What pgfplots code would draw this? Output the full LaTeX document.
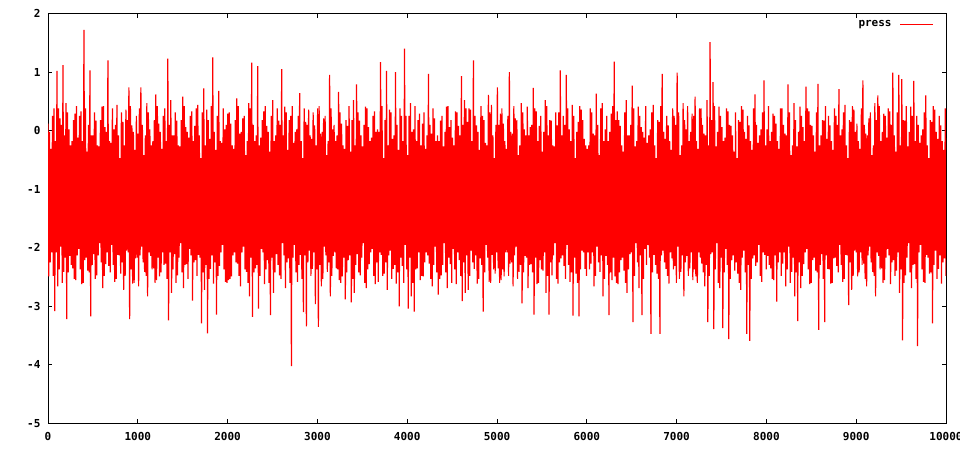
\documentclass[border=0pt]{standalone}
\usepackage{fontspec}
\setmainfont{DejaVu Sans Mono}
\usepackage{pgfplots}
\usepackage{pgfplotstable}
\pgfplotsset{compat=1.18}
\pgfplotstableread[row sep=\\]{
y\\
0.12\\-2.49\\-0.02\\-2.25\\-0.31\\-2.08\\0.25\\-2.48\\0.38\\-3.08\\-0.18\\-2.08\\1.02\\-2.66\\0.38\\-2.37\\0.21\\-1.98\\0.10\\-2.60\\1.12\\-2.41\\-0.08\\-2.17\\0.47\\-3.22\\0.31\\-2.42\\0.02\\-2.14\\-0.25\\-2.29\\-0.18\\-2.35\\0.18\\-2.53\\0.29\\-2.55\\0.42\\-2.13\\
-0.12\\-2.02\\0.25\\-2.37\\0.33\\-2.62\\-0.18\\-2.60\\1.72\\-2.21\\0.38\\-2.17\\-0.36\\-2.39\\0.10\\-2.42\\1.03\\-3.17\\-0.08\\-2.29\\-0.08\\-2.11\\0.31\\-2.53\\0.17\\-2.47\\-0.25\\-2.13\\-0.27\\-1.92\\0.18\\-2.25\\0.41\\-2.69\\0.42\\-2.48\\0.06\\-2.28\\-0.02\\-2.08\\
1.20\\-2.31\\-0.18\\-2.42\\-0.21\\-1.95\\0.38\\-2.29\\0.02\\-2.58\\0.10\\-2.53\\0.44\\-2.12\\-0.08\\-2.13\\-0.47\\-2.44\\0.31\\-2.25\\0.15\\-2.72\\-0.25\\-2.48\\0.36\\-2.05\\0.18\\-2.08\\0.74\\-3.22\\0.42\\-2.37\\0.09\\-2.61\\-0.02\\-2.60\\-0.33\\-2.18\\0.25\\-2.17\\
-0.05\\-2.66\\0.38\\-2.13\\0.74\\-1.98\\0.10\\-2.25\\-0.42\\-2.41\\-0.08\\-2.48\\0.47\\-2.83\\0.31\\-2.08\\0.02\\-2.14\\-0.25\\-2.37\\-0.18\\-2.35\\0.18\\-2.60\\0.62\\-2.55\\0.42\\-2.17\\0.12\\-2.49\\-0.02\\-2.42\\-0.31\\-2.08\\0.25\\-2.29\\0.38\\-2.27\\-0.18\\-2.53\\
1.23\\-3.24\\0.10\\-2.08\\0.52\\-2.77\\-0.08\\-2.37\\-0.08\\-2.11\\0.31\\-2.60\\0.17\\-2.47\\-0.25\\-2.17\\-0.27\\-1.92\\0.18\\-2.42\\0.58\\-2.69\\0.42\\-2.29\\0.06\\-2.28\\-0.02\\-2.53\\-0.12\\-2.02\\0.25\\-2.13\\0.33\\-2.90\\-0.18\\-2.25\\0.08\\-2.21\\0.38\\-2.48\\
0.44\\-2.12\\-0.08\\-2.17\\-0.47\\-3.29\\0.31\\-2.42\\0.72\\-2.72\\-0.25\\-2.29\\0.36\\-3.46\\0.18\\-2.53\\-0.14\\-2.36\\0.42\\-2.13\\1.25\\-2.61\\-0.02\\-2.25\\-0.33\\-3.14\\0.25\\-2.48\\0.68\\-2.31\\-0.18\\-2.08\\-0.21\\-1.95\\0.38\\-2.37\\0.02\\-2.58\\0.10\\-2.60\\
0.29\\-2.55\\0.31\\-2.53\\0.12\\-2.49\\-0.25\\-2.13\\-0.31\\-2.08\\0.18\\-2.25\\0.55\\-2.27\\0.42\\-2.48\\-0.05\\-2.66\\-0.02\\-2.08\\0.21\\-1.98\\0.25\\-2.37\\-0.42\\-2.41\\-0.18\\-2.60\\0.47\\-2.83\\0.38\\-2.17\\1.16\\-3.18\\0.10\\-2.42\\-0.18\\-2.35\\-0.08\\-2.29\\
1.10\\-3.04\\-0.25\\-2.48\\-0.12\\-2.02\\0.18\\-2.08\\0.33\\-2.62\\0.42\\-2.37\\0.08\\-2.21\\-0.02\\-2.60\\-0.36\\-3.15\\0.25\\-2.17\\0.52\\-2.77\\-0.18\\-2.42\\-0.08\\-2.11\\0.38\\-2.29\\0.17\\-2.47\\0.10\\-2.53\\1.05\\-1.92\\-0.08\\-2.13\\0.41\\-2.69\\0.31\\-2.25\\
-0.33\\-2.18\\0.18\\-2.60\\0.25\\-4.02\\0.42\\-2.17\\-0.21\\-1.95\\-0.02\\-2.42\\0.02\\-2.58\\0.25\\-2.29\\0.64\\-2.12\\-0.18\\-2.53\\-0.47\\-3.10\\0.38\\-2.13\\0.15\\-3.34\\0.10\\-2.25\\0.36\\-2.05\\-0.08\\-2.48\\-0.14\\-2.36\\0.31\\-2.08\\0.09\\-2.96\\-0.25\\-2.37\\
0.38\\-3.35\\0.42\\-2.29\\-0.05\\-2.66\\-0.02\\-2.53\\0.21\\-1.98\\0.25\\-2.13\\-0.42\\-2.41\\-0.18\\-2.25\\0.95\\-2.83\\0.38\\-2.48\\0.02\\-2.14\\0.10\\-2.08\\-0.18\\-2.35\\-0.08\\-2.37\\0.66\\-2.55\\0.31\\-2.60\\0.12\\-2.49\\-0.25\\-2.17\\-0.31\\-2.88\\0.18\\-2.42\\
0.08\\-2.21\\0.42\\-2.13\\-0.36\\-2.93\\0.18\\-2.53\\0.52\\-2.77\\-0.25\\-2.29\\0.79\\-2.11\\0.31\\-2.42\\0.17\\-2.47\\-0.08\\-2.17\\-0.27\\-1.92\\0.10\\-2.60\\0.41\\-2.69\\0.38\\-2.37\\0.06\\-2.28\\-0.18\\-2.08\\-0.12\\-2.02\\0.25\\-2.48\\0.33\\-2.62\\-0.02\\-2.25\\
0.02\\-2.58\\-0.02\\-2.08\\1.17\\-2.12\\0.42\\-2.48\\-0.47\\-2.44\\0.18\\-2.25\\1.02\\-2.72\\-0.25\\-2.13\\0.36\\-2.05\\0.31\\-2.53\\-0.14\\-2.36\\-0.08\\-2.29\\1.00\\-2.61\\0.10\\-2.42\\-0.33\\-3.00\\0.38\\-2.17\\0.25\\-2.31\\-0.18\\-2.60\\1.40\\-1.95\\0.25\\-2.37\\
-0.42\\-3.04\\0.25\\-2.17\\0.47\\-2.83\\-0.02\\-2.60\\0.02\\-3.09\\0.42\\-2.37\\-0.18\\-2.35\\0.18\\-2.08\\0.29\\-2.55\\-0.25\\-2.48\\0.12\\-2.49\\0.31\\-2.25\\-0.31\\-2.08\\-0.08\\-2.13\\0.97\\-2.27\\0.10\\-2.53\\-0.05\\-2.66\\0.38\\-2.29\\0.21\\-1.98\\-0.18\\-2.42\\
-0.08\\-2.80\\-0.18\\-2.53\\0.17\\-2.47\\0.25\\-2.29\\-0.27\\-1.92\\-0.02\\-2.42\\0.41\\-2.69\\0.42\\-2.17\\0.06\\-2.28\\0.18\\-2.60\\-0.12\\-2.02\\-0.25\\-2.37\\0.33\\-2.62\\0.31\\-2.08\\0.08\\-2.21\\-0.08\\-2.48\\0.93\\-2.91\\0.10\\-2.25\\0.52\\-2.77\\0.38\\-2.13\\
0.15\\-2.72\\0.38\\-2.48\\0.36\\-2.05\\-0.18\\-2.25\\1.20\\-2.36\\0.25\\-2.13\\0.09\\-2.61\\-0.02\\-2.53\\-0.33\\-2.18\\0.42\\-2.29\\0.25\\-3.09\\0.18\\-2.42\\-0.21\\-1.95\\-0.25\\-2.17\\0.61\\-2.58\\0.31\\-2.60\\0.44\\-2.12\\-0.08\\-2.37\\-0.47\\-2.44\\0.10\\-2.08\\
0.74\\-2.35\\0.10\\-2.60\\0.29\\-2.55\\0.38\\-2.37\\0.12\\-2.49\\-0.18\\-2.08\\-0.31\\-2.08\\0.25\\-2.48\\1.00\\-2.27\\-0.02\\-2.25\\-0.05\\-2.66\\0.42\\-2.13\\0.21\\-1.98\\0.18\\-2.53\\-0.42\\-2.41\\-0.25\\-2.29\\0.47\\-2.95\\0.31\\-2.42\\0.02\\-2.14\\-0.08\\-2.17\\
0.41\\-2.69\\-0.08\\-2.29\\0.06\\-2.28\\0.10\\-2.42\\0.73\\-3.14\\0.38\\-2.17\\0.33\\-2.62\\-0.18\\-2.60\\0.08\\-2.21\\0.25\\-2.37\\-0.36\\-2.39\\-0.02\\-2.08\\0.52\\-2.77\\0.42\\-2.48\\-0.08\\-3.14\\0.18\\-2.25\\0.17\\-2.47\\-0.25\\-2.13\\-0.27\\-1.92\\0.31\\-2.53\\
0.09\\-2.61\\0.31\\-2.25\\1.03\\-2.18\\-0.08\\-2.13\\0.25\\-2.31\\0.10\\-2.53\\0.95\\-1.95\\0.38\\-2.29\\0.02\\-2.58\\-0.18\\-2.42\\0.44\\-3.16\\0.25\\-2.17\\-0.47\\-2.44\\-0.02\\-2.60\\0.15\\-3.17\\0.42\\-2.37\\0.36\\-2.05\\0.18\\-2.08\\-0.14\\-2.36\\-0.25\\-2.48\\
-0.31\\-2.08\\-0.25\\-2.37\\0.38\\-2.27\\0.31\\-2.08\\-0.05\\-2.66\\-0.08\\-2.48\\0.63\\-1.98\\0.10\\-2.25\\-0.42\\-2.41\\0.38\\-2.13\\0.47\\-2.83\\-0.18\\-2.53\\0.02\\-2.14\\0.25\\-2.29\\-0.18\\-3.15\\-0.02\\-2.42\\0.29\\-2.55\\0.42\\-2.17\\1.18\\-2.49\\0.18\\-2.60\\
0.33\\-2.62\\0.18\\-2.42\\0.08\\-2.21\\-0.25\\-2.17\\-0.36\\-2.39\\0.31\\-2.60\\0.52\\-2.77\\-0.08\\-2.37\\-0.08\\-2.11\\0.10\\-2.08\\0.77\\-3.27\\0.38\\-2.48\\-0.27\\-1.92\\-0.18\\-2.25\\0.41\\-2.69\\0.25\\-2.13\\0.06\\-3.15\\-0.02\\-2.53\\-0.12\\-2.02\\0.42\\-2.29\\
-0.21\\-1.95\\-0.08\\-2.17\\0.02\\-3.47\\0.31\\-2.42\\0.44\\-2.12\\-0.25\\-2.29\\-0.47\\-2.44\\0.18\\-2.53\\0.15\\-3.47\\0.42\\-2.13\\0.97\\-2.05\\-0.02\\-2.25\\-0.14\\-2.36\\0.25\\-2.48\\0.09\\-2.61\\-0.18\\-2.08\\-0.33\\-2.18\\0.38\\-2.37\\0.25\\-2.31\\0.10\\-2.60\\
0.99\\-1.98\\0.31\\-2.53\\-0.42\\-2.41\\-0.25\\-2.13\\0.47\\-2.83\\0.18\\-2.25\\0.02\\-2.14\\0.42\\-2.48\\-0.18\\-2.35\\-0.02\\-2.08\\0.29\\-2.55\\0.25\\-2.37\\0.58\\-2.49\\-0.18\\-2.60\\-0.31\\-2.08\\0.38\\-2.17\\0.38\\-2.27\\0.10\\-2.42\\-0.05\\-2.66\\-0.08\\-2.29\\
0.52\\-3.27\\-0.25\\-2.48\\1.51\\-2.11\\0.18\\-2.08\\0.83\\-3.39\\0.42\\-2.37\\-0.27\\-1.92\\-0.02\\-2.60\\0.41\\-2.69\\0.25\\-2.17\\0.06\\-3.37\\-0.18\\-2.42\\-0.12\\-2.02\\0.38\\-2.29\\0.33\\-3.56\\0.10\\-2.53\\0.08\\-2.21\\-0.08\\-2.13\\-0.36\\-2.39\\0.31\\-2.25\\
-0.47\\-2.44\\0.18\\-2.60\\0.15\\-2.72\\0.42\\-2.17\\0.36\\-2.05\\-0.02\\-2.42\\-0.14\\-3.47\\0.25\\-2.29\\0.09\\-3.59\\-0.18\\-2.53\\-0.33\\-2.18\\0.38\\-2.13\\0.62\\-2.31\\0.10\\-2.25\\-0.21\\-1.95\\-0.08\\-2.48\\0.02\\-2.58\\0.31\\-2.08\\0.86\\-2.12\\-0.25\\-2.37\\
0.02\\-2.14\\0.42\\-2.29\\-0.18\\-2.35\\-0.02\\-2.53\\0.29\\-2.55\\0.25\\-2.13\\0.12\\-2.92\\-0.18\\-2.25\\-0.31\\-2.08\\0.38\\-2.48\\0.38\\-2.27\\0.10\\-2.08\\-0.05\\-2.66\\-0.08\\-2.37\\0.79\\-1.98\\0.31\\-2.60\\-0.42\\-2.41\\-0.25\\-2.17\\0.47\\-2.83\\0.18\\-2.42\\
-0.27\\-3.25\\-0.02\\-2.25\\0.41\\-2.69\\0.25\\-2.48\\0.06\\-2.28\\-0.18\\-2.08\\0.75\\-2.02\\0.38\\-2.37\\0.33\\-2.62\\0.10\\-2.60\\0.08\\-2.21\\-0.08\\-2.17\\-0.36\\-2.39\\0.31\\-2.42\\0.80\\-3.40\\-0.25\\-2.29\\-0.08\\-2.11\\0.18\\-2.53\\0.17\\-3.27\\0.42\\-2.13\\
-0.14\\-2.36\\0.25\\-2.37\\0.09\\-2.61\\-0.18\\-2.60\\-0.33\\-2.18\\0.38\\-2.17\\0.25\\-2.31\\0.10\\-2.42\\0.71\\-1.95\\-0.08\\-2.29\\0.02\\-2.58\\0.31\\-2.53\\0.44\\-2.12\\-0.25\\-2.13\\-0.47\\-2.98\\0.18\\-2.25\\0.15\\-2.72\\0.42\\-2.48\\0.36\\-2.05\\-0.02\\-2.08\\
0.12\\-2.49\\-0.18\\-2.42\\-0.31\\-2.08\\0.38\\-2.29\\0.86\\-2.27\\0.10\\-2.53\\-0.05\\-2.66\\-0.08\\-2.13\\0.21\\-1.98\\0.31\\-2.25\\-0.42\\-2.41\\-0.25\\-2.48\\0.47\\-2.83\\0.18\\-2.08\\0.60\\-2.14\\0.42\\-2.37\\-0.18\\-2.35\\-0.02\\-2.60\\0.29\\-2.55\\0.25\\-2.17\\
-0.12\\-2.02\\0.38\\-2.13\\0.33\\-2.62\\0.10\\-2.25\\0.99\\-2.21\\-0.08\\-2.48\\-0.36\\-2.39\\0.31\\-2.08\\0.95\\-2.77\\-0.25\\-2.37\\0.88\\-3.58\\0.18\\-2.60\\0.17\\-2.47\\0.42\\-2.17\\-0.27\\-1.92\\-0.02\\-2.42\\0.41\\-2.69\\0.25\\-2.29\\0.85\\-2.28\\-0.18\\-2.53\\
0.25\\-3.68\\0.10\\-2.08\\-0.21\\-1.95\\-0.08\\-2.37\\0.02\\-2.58\\0.31\\-2.60\\0.60\\-2.12\\-0.25\\-2.17\\-0.47\\-2.44\\0.18\\-2.42\\0.15\\-3.29\\0.42\\-2.29\\0.36\\-2.05\\-0.02\\-2.53\\-0.14\\-2.36\\0.25\\-2.13\\0.09\\-2.61\\-0.18\\-2.25\\-0.33\\-2.18\\0.38\\-2.48\\
}\pressdata
\begin{document}
\begin{tikzpicture}
\useasboundingbox (-48pt,-26.7pt) rectangle (912pt,423.5pt);
\begin{axis}[
  at={(0pt,0pt)}, anchor=south west,
  scale only axis, width=898pt, height=410pt,
  xmin=0, xmax=10000, ymin=-5, ymax=2,
  xtick={0,1000,...,10000}, ytick={-5,-4,...,2},
  tick align=inside, major tick length=4.5pt,
  axis line style={black, line width=1pt},
  tick style={black, line width=1pt},
  scaled x ticks=false,
  ticklabel style={font=\bfseries\fontsize{11}{13}\selectfont},
  xticklabel style={yshift=-5pt},
  yticklabel style={xshift=-4pt},
  /pgf/number format/assume math mode=true,
  /pgf/number format/set thousands separator={},
  legend plot pos=right,
  legend cell align=right,
  legend style={draw=none, fill=none, at={(1,1)}, anchor=north east,
    xshift=-9pt, yshift=-3pt, font=\bfseries\fontsize{11}{13}\selectfont},
  legend image code/.code={\path (0pt,0pt); \draw[#1] (6pt,0pt) -- (39pt,0pt);},
]
\addplot[color=red, line width=1.2pt, line join=bevel, mark=none]
  table[x expr=\coordindex*8.3403, y=y]{\pressdata};
\addlegendentry{press}
\end{axis}
\end{tikzpicture}
\end{document}
